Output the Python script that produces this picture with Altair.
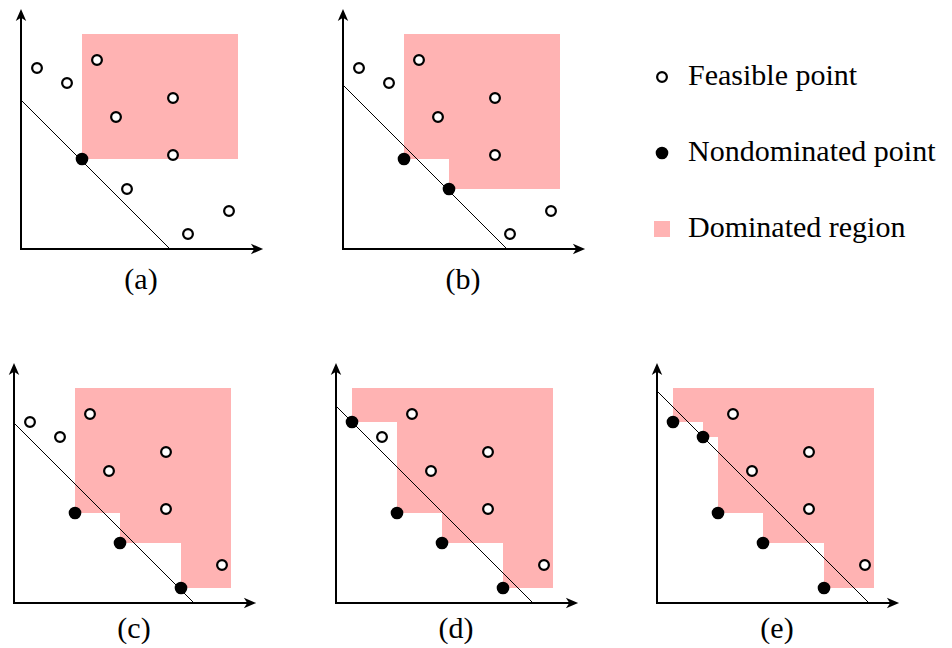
import altair as alt
import pandas as pd

# ---------------- data (panel units, origin at the axes corner) ----------------
point_x = [16, 46, 76, 95, 152, 152, 61, 106, 208, 167]
point_y = [181, 166, 189, 132, 151, 94, 90, 60, 38, 15]
panel_labels = ["(a)", "(b)", "(c)", "(d)", "(e)"]
nondominated_idx = [[6], [6, 7], [6, 7, 9], [0, 6, 7, 9], [0, 1, 6, 7, 9]]
line_intercepts = [149, 164, 180, 197, 212]
region_x_max = 217
region_y_max = 215
axis_x_len = 242
axis_y_len = 240
legend_labels = ["Feasible point", "Nondominated point", "Dominated region"]
legend_kinds = ["feasible", "nondominated", "region"]

# ---------------- style ----------------
PINK = "#FFB3B3"
FONT = "Liberation Serif"
FS = 30
ARROW = "M1,0 L-1,-0.85 L-0.45,0 L-1,0.85 Z"
PW = 260
HOLLOW_SIZE = 95
FILLED_SIZE = 160


def panel(i, xdom, ydom, h, cap_y):
    xs = alt.Scale(domain=xdom, nice=False, zero=False)
    ys = alt.Scale(domain=ydom, nice=False, zero=False)

    def X(f):
        return alt.X(f, type="quantitative", scale=xs, axis=None)

    def Y(f):
        return alt.Y(f, type="quantitative", scale=ys, axis=None)

    nd = set(nondominated_idx[i])
    pts = pd.DataFrame({
        "x": point_x,
        "y": point_y,
        "nd": [k in nd for k in range(len(point_x))],
    })
    regions = pts[pts["nd"]].assign(x2=region_x_max, y2=region_y_max)

    rect = alt.Chart(regions).mark_rect(color=PINK, strokeWidth=0, opacity=1).encode(
        x=X("x"), x2=alt.X2("x2"), y=Y("y"), y2=alt.Y2("y2")
    )

    c = line_intercepts[i]
    ldf = pd.DataFrame({"x": [0], "y": [c], "x2": [c], "y2": [0]})
    line = alt.Chart(ldf).mark_rule(color="black", strokeWidth=1).encode(
        x=X("x"), y=Y("y"), x2=alt.X2("x2"), y2=alt.Y2("y2")
    )

    adf = pd.DataFrame({
        "x": [-1, 0], "y": [0, -1],
        "x2": [axis_x_len - 6, 0], "y2": [0, axis_y_len - 6],
    })
    axes = alt.Chart(adf).mark_rule(color="black", strokeWidth=2).encode(
        x=X("x"), y=Y("y"), x2=alt.X2("x2"), y2=alt.Y2("y2")
    )
    hdf = pd.DataFrame({
        "x": [axis_x_len - 6, 0], "y": [0, axis_y_len - 6], "angle": [0, 270],
    })
    heads = alt.Chart(hdf).mark_point(
        shape=ARROW, filled=True, color="black", size=150, opacity=1, strokeWidth=0
    ).encode(x=X("x"), y=Y("y"), angle=alt.Angle("angle:Q", scale=None))

    hollow = alt.Chart(pts[~pts["nd"]]).mark_point(
        shape="circle", filled=True, fill="white", stroke="black",
        strokeWidth=2.2, size=HOLLOW_SIZE, opacity=1
    ).encode(x=X("x"), y=Y("y"))
    filled = alt.Chart(pts[pts["nd"]]).mark_point(
        shape="circle", filled=True, color="black", size=FILLED_SIZE, opacity=1
    ).encode(x=X("x"), y=Y("y"))

    cdf = pd.DataFrame({"x": [120], "y": [cap_y], "t": [panel_labels[i]]})
    cap = alt.Chart(cdf).mark_text(
        font=FONT, fontSize=FS, align="center", baseline="middle", color="black"
    ).encode(x=X("x"), y=Y("y"), text="t:N")

    return alt.layer(rect, line, axes, heads, hollow, filled, cap).properties(
        width=PW, height=h
    )


def legend_panel(ydom, h):
    xs = alt.Scale(domain=[0, 280], nice=False, zero=False)
    ys = alt.Scale(domain=ydom, nice=False, zero=False)
    ldf = pd.DataFrame({
        "label": legend_labels,
        "kind": legend_kinds,
        "y": [172, 96, 20],
        "sx": [9, 9, 9],
        "tx": [35, 35, 35],
    })
    X = lambda f: alt.X(f, type="quantitative", scale=xs, axis=None)
    Y = lambda f: alt.Y(f, type="quantitative", scale=ys, axis=None)
    base = alt.Chart(ldf)
    hollow = base.transform_filter(alt.datum.kind == "feasible").mark_point(
        shape="circle", filled=True, fill="white", stroke="black",
        strokeWidth=2.2, size=HOLLOW_SIZE, opacity=1
    ).encode(x=X("sx"), y=Y("y"))
    filled = base.transform_filter(alt.datum.kind == "nondominated").mark_point(
        shape="circle", filled=True, color="black", size=FILLED_SIZE, opacity=1
    ).encode(x=X("sx"), y=Y("y"))
    square = base.transform_filter(alt.datum.kind == "region").mark_square(
        color=PINK, size=256, opacity=1
    ).encode(x=X("sx"), y=Y("y"))
    text = base.mark_text(
        font=FONT, fontSize=FS, align="left", baseline="alphabetic", dy=8, color="black"
    ).encode(x=X("tx"), y=Y("y"), text="label:N")
    return alt.layer(square, hollow, filled, text).properties(width=280, height=h)


top_dom = [-50, 240]
bot_dom = [-38, 242]

pa = panel(0, [-12, PW - 12], top_dom, 290, -31)
pb = panel(1, [-12, PW - 12], top_dom, 290, -31)
leg = legend_panel(top_dom, 290)
pc = panel(2, [-5, PW - 5], bot_dom, 280, -26)
pd_ = panel(3, [-5, PW - 5], bot_dom, 280, -26)
pe = panel(4, [-4, PW - 4], bot_dom, 280, -26)

row1 = alt.hconcat(pa, pb, leg, spacing=62, bounds="flush")
row2 = alt.hconcat(pc, pd_, pe, spacing=62, bounds="flush")
chart = alt.vconcat(row1, row2, spacing=62).properties(
    padding=0
).configure_view(stroke=None)

chart.save("out.html", embed_options={"renderer": "svg", "actions": False})
